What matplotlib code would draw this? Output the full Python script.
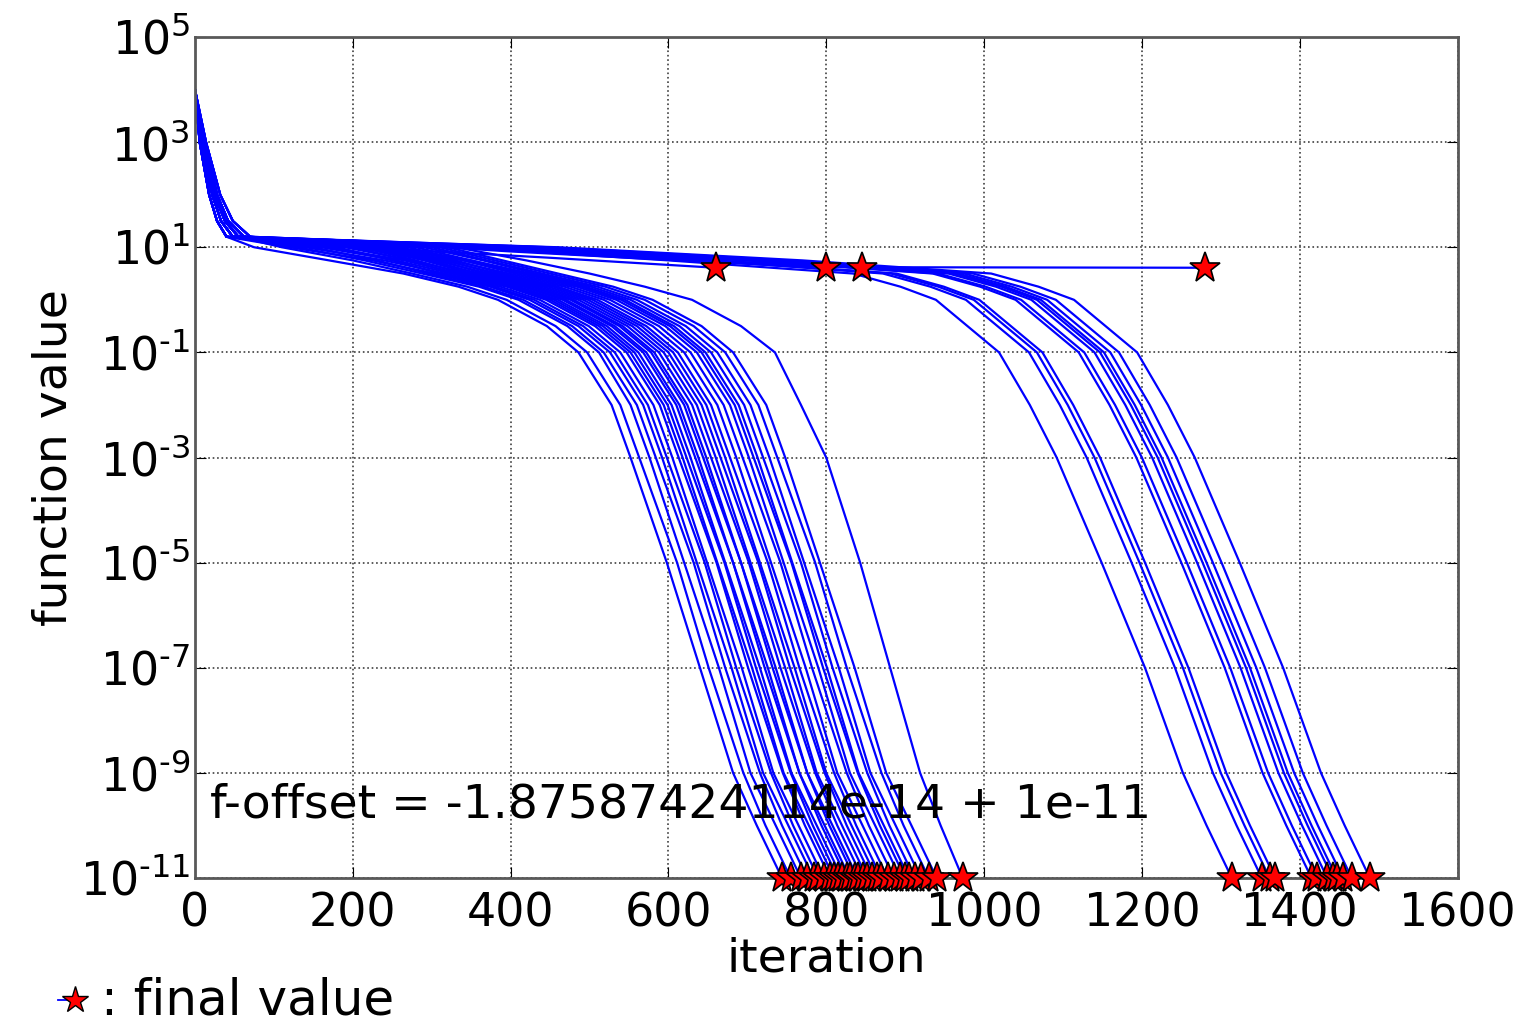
import numpy as np
import matplotlib
matplotlib.use("Agg")
import matplotlib.pyplot as plt
from matplotlib.lines import Line2D
from matplotlib.ticker import NullLocator

levels = [4, 3, 2, 1.5, 1.2, 1.0, 0.75, 0.5, 0.25, 0, -0.5, -1, -2, -3, -5, -7, -9, -10, -11]

# first group of runs (reach 1e-11 between ~740 and ~975)
fast_runs = [
    [0, 6, 18, 28, 40, 75, 170, 264, 334, 384, 446, 486, 528, 552, 598, 640, 682, 712, 744],
    [0, 10, 25, 38, 55, 110, 200, 275, 345, 395, 457, 497, 539, 563, 611, 651, 695, 723, 755],
    [0, 8, 22, 33, 48, 130, 215, 288, 360, 410, 472, 512, 552, 576, 620, 664, 704, 736, 768],
    [0, 12, 28, 42, 62, 150, 230, 296, 366, 416, 478, 518, 560, 584, 632, 672, 716, 744, 776],
    [0, 6, 18, 28, 40, 120, 225, 304, 374, 424, 486, 526, 568, 592, 636, 680, 720, 752, 784],
    [0, 14, 32, 48, 70, 180, 250, 310, 380, 430, 492, 532, 574, 598, 646, 686, 730, 758, 790],
    [0, 8, 22, 33, 48, 140, 240, 317, 387, 437, 499, 539, 581, 605, 649, 693, 733, 765, 797],
    [0, 6, 18, 28, 40, 160, 255, 325, 395, 445, 507, 547, 589, 613, 661, 701, 745, 773, 805],
    [0, 10, 25, 38, 55, 200, 270, 330, 400, 450, 512, 552, 594, 618, 662, 706, 746, 778, 810],
    [0, 12, 28, 42, 62, 170, 265, 335, 405, 455, 517, 557, 599, 623, 671, 711, 755, 783, 815],
    [0, 8, 22, 33, 48, 210, 280, 340, 410, 460, 522, 562, 604, 628, 672, 716, 756, 788, 820],
    [0, 10, 25, 38, 55, 190, 275, 346, 416, 466, 528, 568, 610, 634, 682, 722, 766, 794, 826],
    [0, 6, 18, 28, 40, 220, 290, 350, 420, 470, 532, 572, 614, 638, 682, 726, 766, 798, 830],
    [0, 12, 28, 42, 62, 230, 300, 356, 426, 476, 538, 578, 620, 644, 692, 732, 776, 804, 836],
    [0, 8, 22, 33, 48, 205, 295, 360, 430, 480, 542, 582, 624, 648, 692, 736, 776, 808, 840],
    [0, 14, 32, 48, 70, 240, 310, 366, 436, 486, 548, 588, 630, 654, 702, 742, 786, 814, 846],
    [0, 6, 18, 28, 40, 215, 305, 372, 442, 492, 554, 594, 636, 660, 704, 748, 788, 820, 852],
    [0, 10, 25, 38, 55, 250, 320, 378, 448, 498, 560, 600, 642, 666, 714, 754, 798, 826, 858],
    [0, 8, 22, 33, 48, 225, 315, 384, 454, 504, 566, 606, 648, 672, 716, 760, 800, 832, 864],
    [0, 12, 28, 42, 62, 260, 330, 390, 460, 510, 572, 612, 654, 678, 726, 766, 810, 838, 870],
    [0, 10, 25, 38, 55, 235, 325, 398, 468, 518, 580, 620, 662, 686, 730, 774, 814, 846, 878],
    [0, 6, 18, 28, 40, 270, 340, 406, 476, 526, 588, 628, 670, 694, 742, 782, 826, 854, 886],
    [0, 12, 28, 42, 62, 245, 340, 414, 484, 534, 596, 636, 678, 702, 746, 790, 830, 862, 894],
    [0, 8, 22, 33, 48, 280, 350, 420, 490, 540, 602, 642, 684, 708, 756, 796, 840, 868, 900],
    [0, 14, 32, 48, 70, 255, 350, 425, 495, 545, 607, 647, 689, 713, 757, 801, 841, 873, 905],
    [0, 6, 18, 28, 40, 290, 365, 432, 502, 552, 614, 654, 696, 720, 768, 808, 852, 880, 912],
    [0, 10, 25, 38, 55, 300, 370, 440, 510, 560, 622, 662, 704, 728, 772, 816, 856, 888, 920],
    [0, 8, 22, 33, 48, 310, 380, 450, 520, 570, 632, 672, 714, 738, 786, 826, 870, 898, 930],
    [0, 12, 28, 42, 62, 320, 390, 460, 530, 580, 642, 682, 724, 748, 792, 836, 876, 908, 940],
    [0, 10, 25, 38, 55, 330, 420, 500, 570, 630, 692, 735, 768, 800, 843, 881, 919, 945, 973],
]

# second group of runs (reach 1e-11 between ~1310 and ~1490)
slow_runs = [
    [0, 8, 22, 33, 48, 340, 600, 834, 894, 939, 979, 1019, 1058, 1092, 1149, 1204, 1252, 1282, 1314],
    [0, 12, 28, 42, 62, 360, 650, 872, 932, 977, 1017, 1057, 1096, 1130, 1187, 1242, 1290, 1320, 1352],
    [0, 10, 25, 38, 55, 380, 660, 882, 942, 987, 1027, 1067, 1106, 1140, 1197, 1252, 1300, 1330, 1362],
    [0, 6, 18, 28, 40, 350, 640, 889, 949, 994, 1034, 1074, 1113, 1147, 1204, 1259, 1307, 1337, 1369],
    [0, 14, 32, 48, 70, 400, 700, 935, 995, 1040, 1080, 1120, 1159, 1193, 1250, 1305, 1353, 1383, 1415],
    [0, 10, 25, 38, 55, 420, 710, 942, 1002, 1047, 1087, 1127, 1166, 1200, 1257, 1312, 1360, 1390, 1422],
    [0, 8, 22, 33, 48, 390, 700, 955, 1015, 1060, 1100, 1140, 1179, 1213, 1270, 1325, 1373, 1403, 1435],
    [0, 10, 25, 38, 55, 440, 730, 962, 1022, 1067, 1107, 1147, 1186, 1220, 1277, 1332, 1380, 1410, 1442],
    [0, 14, 32, 48, 70, 410, 720, 967, 1027, 1072, 1112, 1152, 1191, 1225, 1282, 1337, 1385, 1415, 1447],
    [0, 8, 22, 33, 48, 430, 740, 975, 1035, 1080, 1120, 1160, 1199, 1233, 1290, 1345, 1393, 1423, 1455],
    [0, 12, 28, 42, 62, 450, 750, 986, 1046, 1091, 1131, 1171, 1210, 1244, 1301, 1356, 1404, 1434, 1466],
    [0, 8, 22, 33, 48, 460, 770, 1009, 1069, 1114, 1154, 1194, 1233, 1267, 1324, 1379, 1427, 1457, 1489],
]

# runs that got stuck around f ~ 4
stuck_iters = [
    [0, 8, 22, 33, 48, 200, 330, 450, 560, 660],
    [0, 10, 25, 38, 55, 260, 400, 550, 680, 800],
    [0, 12, 28, 42, 62, 300, 450, 600, 730, 845],
    [0, 6, 18, 28, 40, 320, 480, 650, 760, 860, 1280],
]
stuck_logf = [
    [4, 3, 2, 1.5, 1.2, 1.0, 0.9, 0.8, 0.7, 0.61],
    [4, 3, 2, 1.5, 1.2, 1.05, 0.92, 0.8, 0.7, 0.61],
    [4, 3, 2, 1.5, 1.2, 1.05, 0.9, 0.78, 0.68, 0.61],
    [4, 3, 2, 1.5, 1.2, 1.05, 0.9, 0.75, 0.67, 0.62, 0.61],
]

ytick_exp = [5, 3, 1, -1, -3, -5, -7, -9, -11]
xticks = [0, 200, 400, 600, 800, 1000, 1200, 1400, 1600]

fig = plt.figure(figsize=(15.23, 10.27), dpi=100)
ax = fig.add_axes([0.128, 0.145, 0.829, 0.819])

star = dict(marker='*', ms=23, mfc='r', mec='k', mew=1.2, clip_on=False, zorder=5)

for run in fast_runs + slow_runs:
    ax.semilogy(run, 10.0 ** np.array(levels), 'b-', lw=1.6)
for it, lf in zip(stuck_iters, stuck_logf):
    ax.semilogy(it, 10.0 ** np.array(lf), 'b-', lw=1.6)

# final values
for run in fast_runs + slow_runs:
    ax.plot(run[-1], 10.0 ** levels[-1], linestyle='none', **star)
for it, lf in zip(stuck_iters, stuck_logf):
    ax.plot(it[-1], 10.0 ** lf[-1], linestyle='none', **star)

ax.set_xlim(0, 1600)
ax.set_ylim(1e-11, 1e5)
ax.set_xticks(xticks)
ax.set_yticks([10.0 ** e for e in ytick_exp])
ax.set_yticklabels([r'$10^{%d}$' % e if e > 0 else r'$10^{\text{-}%d}$' % -e
                    for e in ytick_exp])
ax.yaxis.set_minor_locator(NullLocator())
ax.grid(True, color='0.25', linestyle=':', lw=1.2)
ax.tick_params(labelsize=33, direction='in', length=8, top=True, right=True)
ax.tick_params(axis='x', pad=10)
for s in ax.spines.values():
    s.set_linewidth(2)
    s.set_color('0.35')

ax.set_xlabel('iteration', fontsize=34, labelpad=0)
ax.set_ylabel('function value', fontsize=34, labelpad=2)
ax.text(0.012, 0.06, 'f-offset = -1.87587424114e-14 + 1e-11',
        transform=ax.transAxes, fontsize=34, va='bottom', ha='left')

# legend below the axes
fig.add_artist(Line2D([0.038, 0.049], [0.026, 0.026], transform=fig.transFigure,
                      color='b', lw=1.3))
fig.add_artist(Line2D([0.049], [0.026], transform=fig.transFigure, marker='*',
                      ms=20, mfc='r', mec='k', mew=1.0, linestyle='none'))
fig.text(0.066, 0.026, ': final value', fontsize=36, va='center', ha='left')

fig.savefig('out.png', dpi=100)
